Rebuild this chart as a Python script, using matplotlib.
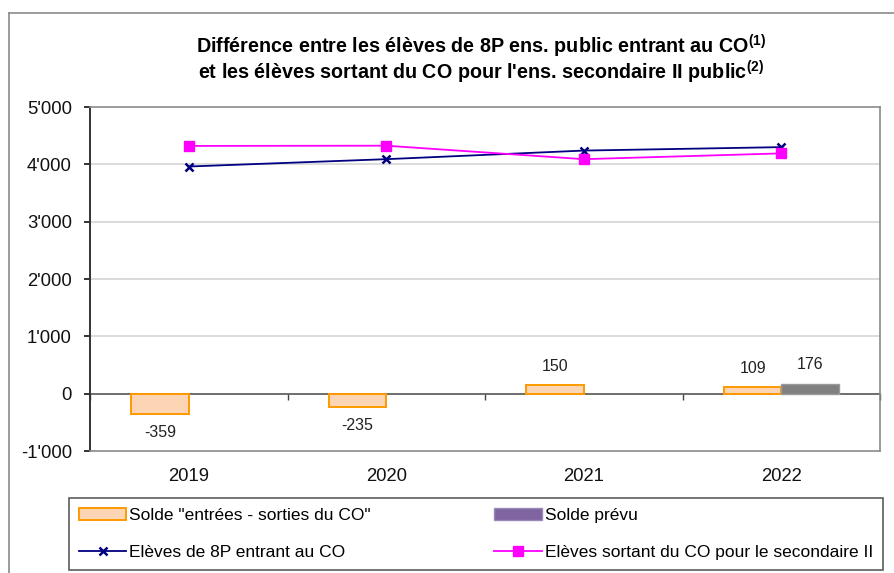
import matplotlib
matplotlib.use("Agg")
import matplotlib.pyplot as plt
import matplotlib.patches as mpatches
from matplotlib.lines import Line2D
from matplotlib.ticker import FuncFormatter
import numpy as np

plt.rcParams["font.family"] = ["Liberation Sans", "DejaVu Sans"]
plt.rcParams["mathtext.fontset"] = "custom"
plt.rcParams["mathtext.rm"] = "Liberation Sans:bold"
plt.rcParams["mathtext.bf"] = "Liberation Sans:bold"

# data
years = ["2019", "2020", "2021", "2022"]
solde = [-359, -235, 150, 109]
solde_prevu = [np.nan, np.nan, np.nan, 176]
entrant_8p = [3962, 4090, 4240, 4300]
sortant_co = [4321, 4325, 4090, 4191]

fig = plt.figure(figsize=(8.95, 5.73), dpi=100)
ax = fig.add_axes([90 / 895, 1 - 451 / 573, 790 / 895, 344 / 573])

x = np.arange(len(years))
w = 0.29
ymin, ymax = -1000, 5000

bars1 = ax.bar(x - w / 2, solde, width=w, color="#FCD5B5", edgecolor="#FF9900",
               linewidth=1.4, zorder=3)
bars2 = ax.bar(x + w / 2, solde_prevu, width=w, color="#808080", edgecolor="#9a9a9a",
               linewidth=1.0, zorder=3)
ax.plot(x, entrant_8p, color="#000080", linewidth=1.3, marker="x", markersize=6,
        markeredgewidth=1.8, zorder=4)
ax.plot(x, sortant_co, color="#FF00FF", linewidth=1.3, marker="s", markersize=7.5,
        zorder=4)

ax.bar_label(bars1, labels=[f"{v}" for v in solde], padding=8, fontsize=11.5, color="#222222")
ax.bar_label(bars2, labels=["" if np.isnan(v) else f"{v:.0f}" for v in solde_prevu],
             padding=8, fontsize=11.5, color="#222222")

ax.set_xlim(-0.5, len(years) - 0.5)
ax.set_ylim(ymin, ymax)
ax.set_yticks(np.arange(ymin, ymax + 1, 1000))
ax.yaxis.set_major_formatter(FuncFormatter(lambda v, p: f"{int(v):,}".replace(",", "'")))
ax.set_xticks(x)
ax.set_xticklabels(years)
ax.tick_params(axis="x", length=0, pad=12, labelsize=13.3, colors="#111111")
ax.tick_params(axis="y", length=4, width=1.2, pad=9, labelsize=13.3, colors="#111111",
               direction="out")

for v in range(1000, ymax, 1000):
    ax.axhline(v, color="#d4d4d4", linewidth=1.2, zorder=1)

for side in ["top", "right", "bottom"]:
    ax.spines[side].set_color("#8a8a8a")
    ax.spines[side].set_linewidth(1.2)
ax.spines["left"].set_color("#333333")
ax.spines["left"].set_linewidth(1.4)

# category axis at zero with boundary ticks
zero_loc = (0 - ymin) / (ymax - ymin)
sec = ax.secondary_xaxis(zero_loc)
sec.set_xticks(np.arange(-0.5, len(years), 1.0))
sec.set_xticklabels([])
sec.tick_params(length=4, width=1.0, colors="#444444", direction="out")
sec.spines["bottom"].set_color("#555555")
sec.spines["bottom"].set_linewidth(1.2)
sec.spines["bottom"].set_zorder(5)

# title (two lines)
fig.text(481 / 895, 1 - 46 / 573,
         "Différence entre les élèves de 8P ens. public entrant au CO$^{(1)}$",
         ha="center", va="center", fontsize=14.2, fontweight="bold")
fig.text(481 / 895, 1 - 72 / 573,
         "et les élèves sortant du CO pour l'ens. secondaire II public$^{(2)}$",
         ha="center", va="center", fontsize=14.2, fontweight="bold")

# legend
handles = [
    mpatches.Patch(facecolor="#FCD5B5", edgecolor="#FF9900", linewidth=1.4,
                   label='Solde "entrées - sorties du CO"'),
    Line2D([], [], color="#000080", linewidth=1.3, marker="x", markersize=6,
           markeredgewidth=1.8, label="Elèves de 8P entrant au CO"),
    mpatches.Patch(facecolor="#8064A2", edgecolor="#9a8ab8", linewidth=1.0,
                   label="Solde prévu"),
    Line2D([], [], color="#FF00FF", linewidth=1.3, marker="s", markersize=7,
           label="Elèves sortant du CO pour le secondaire II"),
]
leg = fig.legend(handles=handles, ncol=2, loc="lower left", mode="expand",
                 bbox_to_anchor=(69 / 895, 3 / 573, 814 / 895, 76 / 573),
                 fontsize=12.5, frameon=True, fancybox=False, handlelength=2.76,
                 handletextpad=0.17, labelspacing=1.3, borderaxespad=0,
                 borderpad=0.55)
leg.get_frame().set_edgecolor("#333333")
leg.get_frame().set_linewidth(1.2)

# outer chart border (left and top visible)
fig.add_artist(Line2D([9 / 895, 9 / 895], [0, 1 - 13 / 573], transform=fig.transFigure,
                      color="#8a8a8a", linewidth=1.2))
fig.add_artist(Line2D([9 / 895, 1], [1 - 13 / 573, 1 - 13 / 573], transform=fig.transFigure,
                      color="#8a8a8a", linewidth=1.2))

fig.savefig("out.png", dpi=100)
